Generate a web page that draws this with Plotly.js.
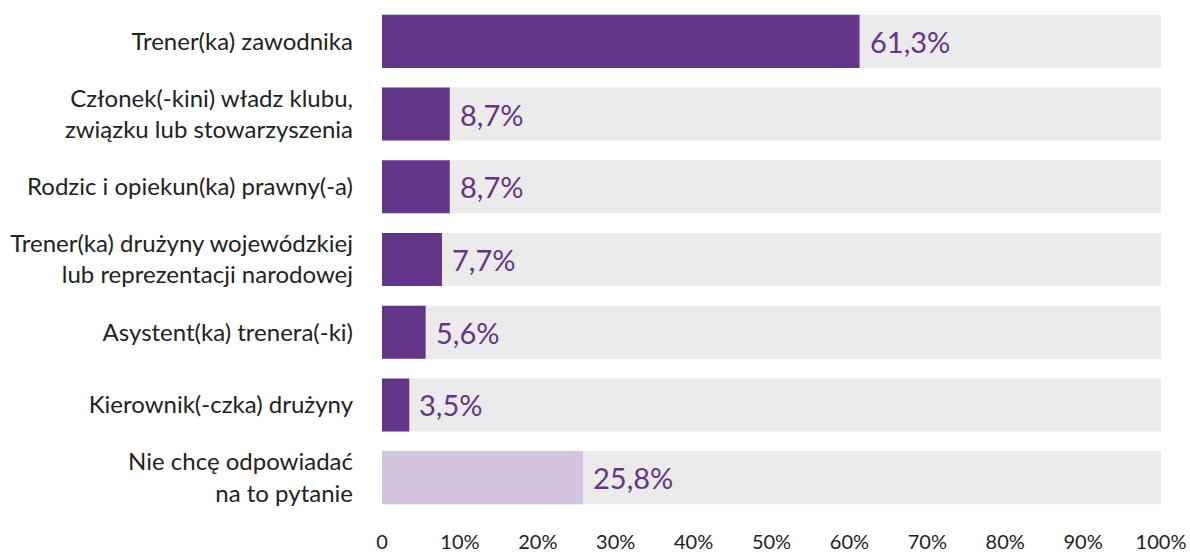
<!DOCTYPE html>
<html>
<head>
<meta charset="utf-8">
<script src="https://cdn.plot.ly/plotly-3.0.1.min.js"></script>
<style>html,body{margin:0;padding:0;background:#fff;}#chart{width:1190px;height:554px;}</style>
</head>
<body>
<div id="chart"></div>
<script>
const categories = [
  "Trener(ka) zawodnika",
  "Członek(-kini) władz klubu,<br>związku lub stowarzyszenia",
  "Rodzic i opiekun(ka) prawny(-a)",
  "Trener(ka) drużyny wojewódzkiej<br>lub reprezentacji narodowej",
  "Asystent(ka) trenera(-ki)",
  "Kierownik(-czka) drużyny",
  "Nie chcę odpowiadać<br>na to pytanie"
];
const values = [61.3, 8.7, 8.7, 7.7, 5.6, 3.5, 25.8];
const totals = [100, 100, 100, 100, 100, 100, 100];
const tickVals = [0, 10, 20, 30, 40, 50, 60, 70, 80, 90, 100];
const tickText = ["0", "10%", "20%", "30%", "40%", "50%", "60%", "70%", "80%", "90%", "100%"];

const dark = "#633689";
const light = "#D3C5DF";
const barColors = values.map((v, i) => i === values.length - 1 ? light : dark);
const fmt = v => v.toFixed(1).replace('.', ',') + '%';

const traces = [
  {type: 'bar', orientation: 'h', y: categories, x: totals,
   marker: {color: '#EBEBEB'}, width: 0.73, hoverinfo: 'skip'},
  {type: 'bar', orientation: 'h', y: categories, x: values,
   marker: {color: barColors}, width: 0.73, hoverinfo: 'skip'}
];

const annotations = categories.map((c, i) => ({
  x: values[i], y: c, xref: 'x', yref: 'y', text: fmt(values[i]),
  showarrow: false, xanchor: 'left', yanchor: 'middle', xshift: 8,
  font: {family: 'Lato, sans-serif', size: 29, color: dark}
}));

const layout = {
  width: 1190, height: 554,
  margin: {l: 382, r: 29, t: 5, b: 40},
  paper_bgcolor: '#fff', plot_bgcolor: '#fff',
  barmode: 'overlay',
  showlegend: false,
  xaxis: {range: [0, 100], tickvals: tickVals, ticktext: tickText,
          showgrid: false, zeroline: false, showline: false, ticks: '',
          ticklabelstandoff: 14,
          tickfont: {family: 'Lato, sans-serif', size: 20, color: '#222'}, fixedrange: true},
  yaxis: {categoryorder: 'array', categoryarray: categories, autorange: 'reversed',
          showgrid: false, zeroline: false, showline: false, ticks: '',
          ticklabelstandoff: 28,
          tickfont: {family: 'Lato, sans-serif', size: 24, color: '#222'}, fixedrange: true},
  annotations: annotations
};

Plotly.newPlot('chart', traces, layout, {displayModeBar: false, staticPlot: true});
</script>
</body>
</html>
